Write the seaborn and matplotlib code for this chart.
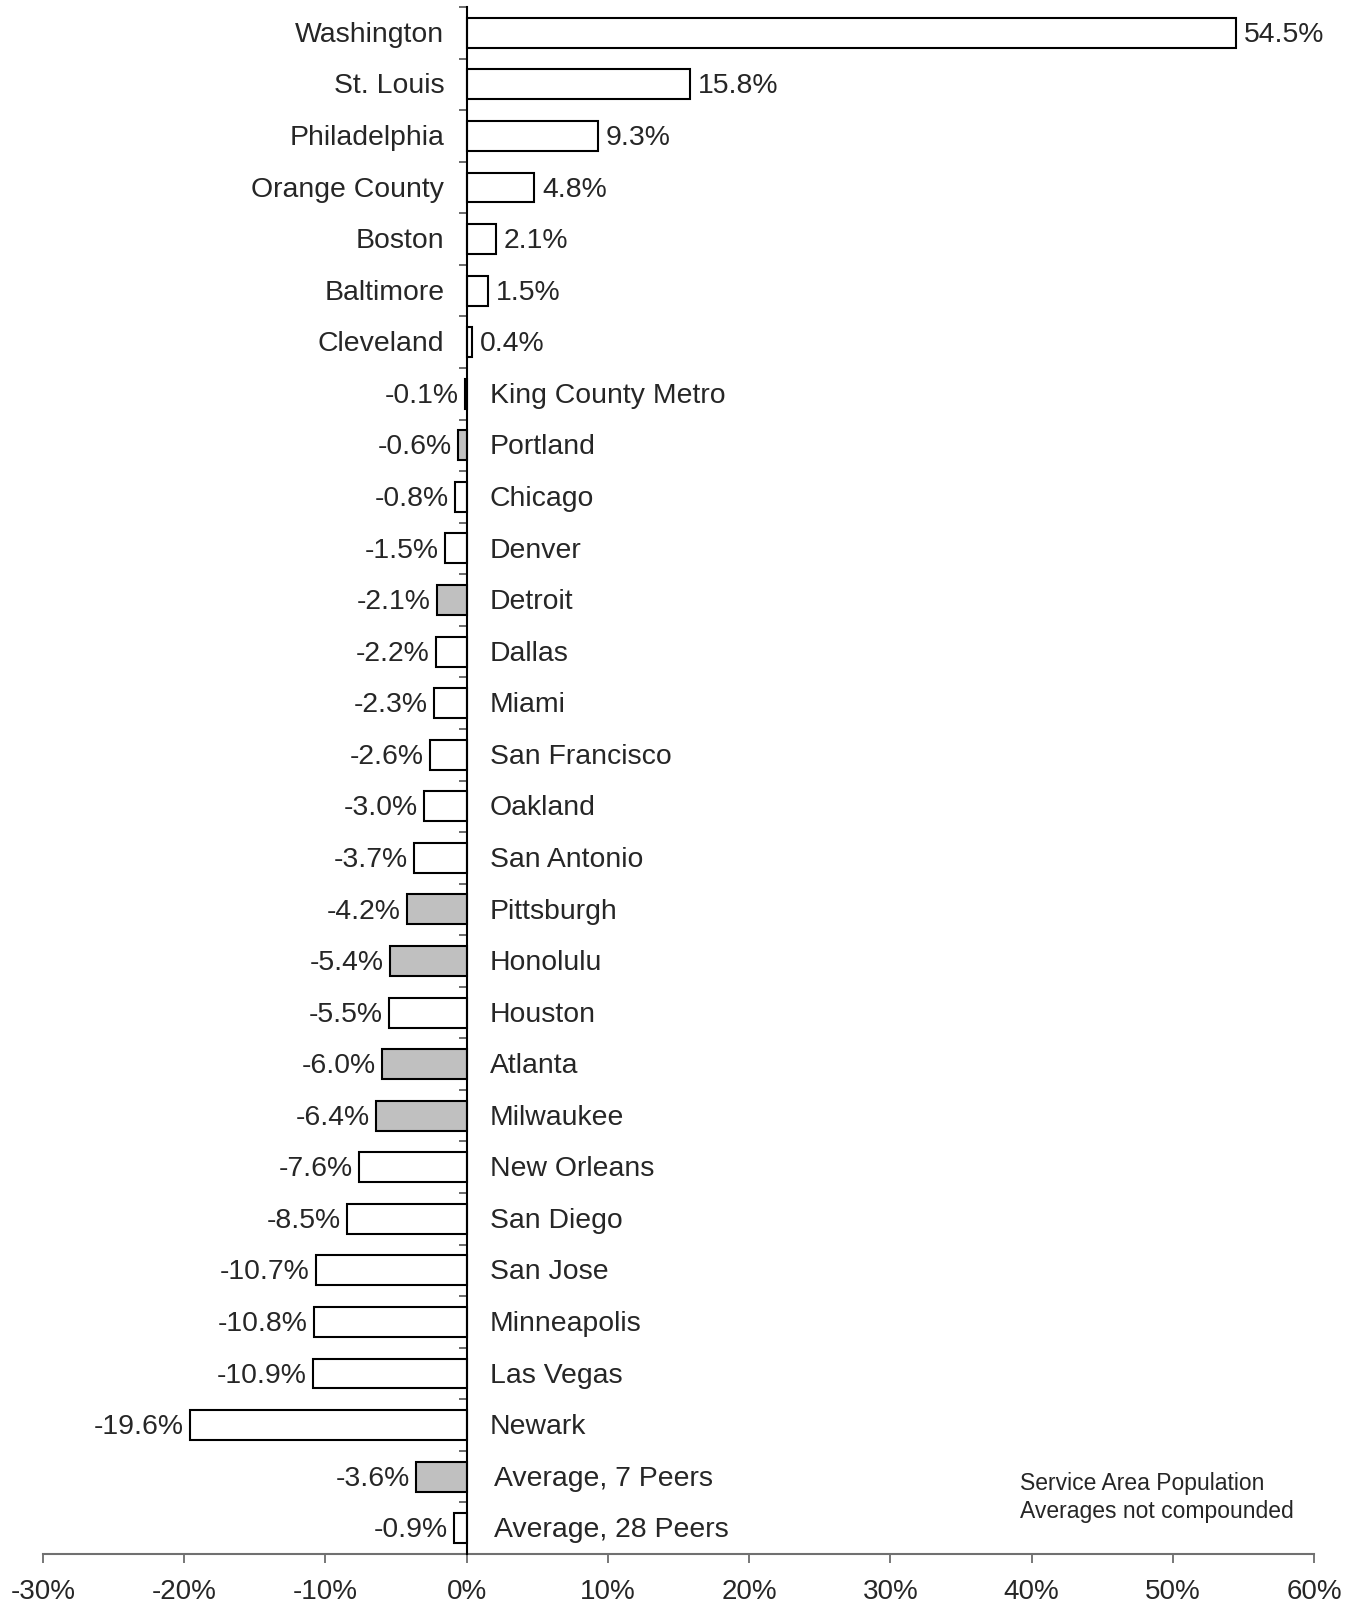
import numpy as np
import pandas as pd
import matplotlib
matplotlib.use("Agg")
import matplotlib.pyplot as plt
import seaborn as sns

# Change in service area population by agency
agencies = [
    "Washington", "St. Louis", "Philadelphia", "Orange County", "Boston",
    "Baltimore", "Cleveland", "King County Metro", "Portland", "Chicago",
    "Denver", "Detroit", "Dallas", "Miami", "San Francisco", "Oakland",
    "San Antonio", "Pittsburgh", "Honolulu", "Houston", "Atlanta",
    "Milwaukee", "New Orleans", "San Diego", "San Jose", "Minneapolis",
    "Las Vegas", "Newark", "Average, 7 Peers", "Average, 28 Peers",
]
change_pct = [
    54.5, 15.8, 9.3, 4.8, 2.1,
    1.5, 0.4, -0.1, -0.6, -0.8,
    -1.5, -2.1, -2.2, -2.3, -2.6, -3.0,
    -3.7, -4.2, -5.4, -5.5, -6.0,
    -6.4, -7.6, -8.5, -10.7, -10.8,
    -10.9, -19.6, -3.6, -0.9,
]
# "subject" = King County Metro, "peer" = the 7-peer group, "other" = remaining agencies
group = [
    "other", "other", "other", "other", "other",
    "other", "other", "subject", "peer", "other",
    "other", "peer", "other", "other", "other", "other",
    "other", "peer", "peer", "other", "peer",
    "peer", "other", "other", "other", "other",
    "other", "other", "peer", "other",
]
tick_values = [-30, -20, -10, 0, 10, 20, 30, 40, 50, 60]
tick_labels = ["-30%", "-20%", "-10%", "0%", "10%", "20%", "30%", "40%", "50%", "60%"]
note_lines = ["Service Area Population", "Averages not compounded"]

group_colors = {"other": "#FFFFFF", "peer": "#C0C0C0", "subject": "#000000"}

df = pd.DataFrame({"agency": agencies, "change": change_pct, "group": group})
palette = {a: group_colors[g] for a, g in zip(agencies, group)}

sns.set_theme(style="white")
plt.rcParams["font.family"] = ["Liberation Sans", "DejaVu Sans"]

LABEL_SIZE = 20.4

fig = plt.figure(figsize=(13.58, 16.06), dpi=100)
ax = fig.add_axes([43 / 1358, 1 - 1555 / 1606, (1314 - 43) / 1358, (1555 - 8) / 1606])

sns.barplot(
    data=df, x="change", y="agency", hue="agency", palette=palette,
    legend=False, orient="h", width=0.58, saturation=1,
    edgecolor="black", linewidth=1.5, ax=ax,
)

n = len(agencies)
ax.set_xlim(-30, 60)
ax.set_ylim(n - 0.5, -0.5)

# x axis
ax.set_xticks(tick_values)
ax.set_xticklabels(tick_labels, fontsize=20)
ax.set_xlabel("")
ax.set_ylabel("")
ax.tick_params(axis="x", direction="out", length=6.5, width=1.2, color="#606060",
               pad=11, bottom=True)

# zero line with category separator ticks
ax.spines["left"].set_position(("data", 0))
ax.spines["left"].set_color("black")
ax.spines["left"].set_linewidth(1.5)
ax.spines["left"].set_zorder(5)
ax.set_yticks(np.arange(-0.5, n, 1.0))
ax.set_yticklabels([])
ax.tick_params(axis="y", direction="out", length=6, width=1.2, color="#505050", left=True)

ax.spines["bottom"].set_color("#707070")
ax.spines["bottom"].set_linewidth(1.5)
ax.spines["right"].set_visible(False)
ax.spines["top"].set_visible(False)
ax.grid(False)

# value and category labels
for i, (name, val) in enumerate(zip(agencies, change_pct)):
    vlabel = f"{val:.1f}%"
    if val >= 0:
        ax.annotate(vlabel, xy=(val, i), xytext=(5.5, -0.8), textcoords="offset points",
                    ha="left", va="center", fontsize=LABEL_SIZE)
        ax.annotate(name, xy=(0, i), xytext=(-16, -0.8), textcoords="offset points",
                    ha="right", va="center", fontsize=LABEL_SIZE)
    else:
        ax.annotate(vlabel, xy=(val, i), xytext=(-4.5, -0.8), textcoords="offset points",
                    ha="right", va="center", fontsize=LABEL_SIZE)
        off = 20 if name.startswith("Average") else 16.5
        ax.annotate(name, xy=(0, i), xytext=(off, -0.8), textcoords="offset points",
                    ha="left", va="center", fontsize=LABEL_SIZE)

# note in the lower right
fig.text(1020 / 1358, 1 - 1484 / 1606, note_lines[0], ha="left", va="center", fontsize=16.5)
fig.text(1020 / 1358, 1 - 1512 / 1606, note_lines[1], ha="left", va="center", fontsize=16.5)

fig.savefig("out.png", dpi=100, facecolor="white")
